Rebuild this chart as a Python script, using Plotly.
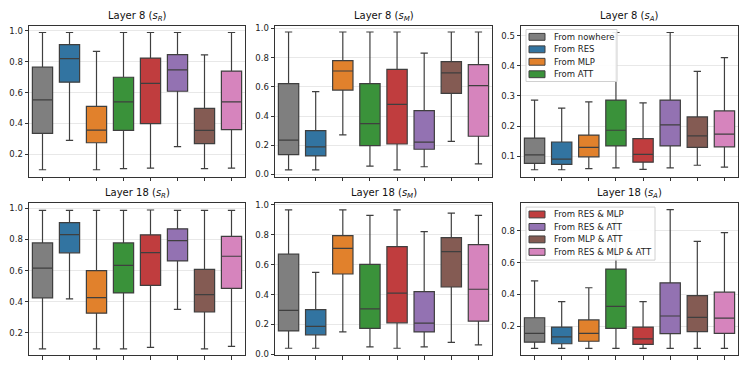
import plotly.graph_objects as go
from plotly.subplots import make_subplots

categories = ["From nowhere", "From RES", "From MLP", "From ATT",
              "From RES & MLP", "From RES & ATT", "From MLP & ATT", "From RES & MLP & ATT"]
colors = ["#7f7f7f", "#3274a1", "#e1812c", "#3a923a",
          "#c03d3e", "#9372b2", "#845b53", "#d684bd"]

# box statistics: lower whisker, q1, median, q3, upper whisker
l8_sr_lo = [0.10, 0.29, 0.10, 0.107, 0.11, 0.25, 0.107, 0.11]
l8_sr_q1 = [0.336, 0.668, 0.275, 0.355, 0.399, 0.609, 0.269, 0.36]
l8_sr_med = [0.553, 0.821, 0.357, 0.54, 0.66, 0.748, 0.355, 0.54]
l8_sr_q3 = [0.765, 0.912, 0.511, 0.70, 0.824, 0.847, 0.498, 0.74]
l8_sr_hi = [0.99, 0.99, 0.868, 0.99, 0.99, 0.99, 0.845, 0.99]

l8_sm_lo = [0.031, 0.031, 0.271, 0.058, 0.031, 0.053, 0.227, 0.073]
l8_sm_q1 = [0.136, 0.127, 0.578, 0.198, 0.209, 0.173, 0.556, 0.262]
l8_sm_med = [0.236, 0.189, 0.709, 0.349, 0.48, 0.222, 0.696, 0.609]
l8_sm_q3 = [0.622, 0.30, 0.78, 0.622, 0.72, 0.438, 0.773, 0.753]
l8_sm_hi = [0.976, 0.567, 0.976, 0.976, 0.976, 0.831, 0.976, 0.976]

l8_sa_lo = [0.055, 0.055, 0.059, 0.061, 0.056, 0.061, 0.07, 0.064]
l8_sa_q1 = [0.076, 0.073, 0.098, 0.134, 0.08, 0.134, 0.129, 0.131]
l8_sa_med = [0.104, 0.09, 0.129, 0.186, 0.106, 0.204, 0.167, 0.173]
l8_sa_q3 = [0.16, 0.147, 0.17, 0.286, 0.158, 0.286, 0.23, 0.25]
l8_sa_hi = [0.286, 0.259, 0.28, 0.51, 0.277, 0.51, 0.381, 0.427]

l18_sr_lo = [0.095, 0.418, 0.095, 0.095, 0.105, 0.35, 0.095, 0.112]
l18_sr_q1 = [0.424, 0.714, 0.325, 0.456, 0.504, 0.662, 0.333, 0.485]
l18_sr_med = [0.616, 0.831, 0.426, 0.633, 0.715, 0.793, 0.445, 0.692]
l18_sr_q3 = [0.778, 0.909, 0.599, 0.778, 0.83, 0.869, 0.608, 0.82]
l18_sr_hi = [0.987, 0.987, 0.987, 0.987, 0.99, 0.987, 0.987, 0.987]

l18_sm_lo = [0.041, 0.041, 0.15, 0.05, 0.041, 0.05, 0.081, 0.063]
l18_sm_q1 = [0.157, 0.131, 0.538, 0.174, 0.211, 0.15, 0.451, 0.222]
l18_sm_med = [0.294, 0.187, 0.71, 0.305, 0.41, 0.209, 0.688, 0.436]
l18_sm_q3 = [0.671, 0.30, 0.795, 0.603, 0.721, 0.42, 0.782, 0.734]
l18_sm_hi = [0.967, 0.549, 0.967, 0.93, 0.967, 0.821, 0.946, 0.93]

l18_sa_lo = [0.06, 0.06, 0.06, 0.06, 0.06, 0.06, 0.06, 0.06]
l18_sa_q1 = [0.099, 0.089, 0.105, 0.186, 0.085, 0.153, 0.165, 0.155]
l18_sa_med = [0.155, 0.132, 0.155, 0.325, 0.12, 0.264, 0.255, 0.251]
l18_sa_q3 = [0.253, 0.194, 0.239, 0.56, 0.194, 0.473, 0.393, 0.414]
l18_sa_hi = [0.486, 0.354, 0.442, 0.90, 0.354, 0.934, 0.734, 0.79]

panels = [
    (1, 1, "Layer 8 (<i>s<sub>R</sub></i>)", (l8_sr_lo, l8_sr_q1, l8_sr_med, l8_sr_q3, l8_sr_hi)),
    (1, 2, "Layer 8 (<i>s<sub>M</sub></i>)", (l8_sm_lo, l8_sm_q1, l8_sm_med, l8_sm_q3, l8_sm_hi)),
    (1, 3, "Layer 8 (<i>s<sub>A</sub></i>)", (l8_sa_lo, l8_sa_q1, l8_sa_med, l8_sa_q3, l8_sa_hi)),
    (2, 1, "Layer 18 (<i>s<sub>R</sub></i>)", (l18_sr_lo, l18_sr_q1, l18_sr_med, l18_sr_q3, l18_sr_hi)),
    (2, 2, "Layer 18 (<i>s<sub>M</sub></i>)", (l18_sm_lo, l18_sm_q1, l18_sm_med, l18_sm_q3, l18_sm_hi)),
    (2, 3, "Layer 18 (<i>s<sub>A</sub></i>)", (l18_sa_lo, l18_sa_q1, l18_sa_med, l18_sa_q3, l18_sa_hi)),
]

y_ranges = {(1, 1): [0.055, 1.035], (1, 2): [-0.015, 1.02], (1, 3): [0.032, 0.533],
            (2, 1): [0.054, 1.034], (2, 2): [-0.006, 1.012], (2, 3): [0.0165, 0.975]}
y_dticks = {(1, 1): 0.2, (1, 2): 0.2, (1, 3): 0.1, (2, 1): 0.2, (2, 2): 0.2, (2, 3): 0.2}

W, H = 747, 374
col_px = [(29, 245), (275, 492), (521, 738)]
row_px = [(23, 177), (204, 359)]
EDGE = "#3f3f3f"

fig = make_subplots(rows=2, cols=3)

for row, col, title, stats in panels:
    lo, q1, med, q3, hi = stats
    for i, cat in enumerate(categories):
        fig.add_trace(go.Box(
            x=[cat], lowerfence=[lo[i]], q1=[q1[i]], median=[med[i]],
            q3=[q3[i]], upperfence=[hi[i]], width=0.75,
            name=cat, fillcolor=colors[i], marker_color=colors[i],
            line=dict(color=EDGE, width=1.2), whiskerwidth=0.36,
            boxpoints=False, showlegend=False, hoverinfo="skip",
        ), row=row, col=col)

    x0, x1 = col_px[col - 1]
    y0, y1 = row_px[row - 1]
    fig.update_xaxes(domain=[x0 / W, x1 / W], row=row, col=col,
                     categoryorder="array", categoryarray=categories,
                     range=[-0.5, 7.5],
                     showticklabels=False, ticks="outside", ticklen=3.5,
                     tickcolor="#333", showgrid=False, showline=True, mirror=True,
                     linecolor="#333", linewidth=1, zeroline=False)
    fig.update_yaxes(domain=[1 - y1 / H, 1 - y0 / H], row=row, col=col,
                     range=y_ranges[(row, col)], dtick=y_dticks[(row, col)], tick0=0,
                     tickformat=".1f", ticks="outside", ticklen=3.5, tickcolor="#333",
                     showgrid=True, gridcolor="#e8e8e8", gridwidth=1,
                     showline=True, mirror=True, linecolor="#333", linewidth=1,
                     zeroline=False, tickfont=dict(size=8.5, color="#222"))
    fig.add_annotation(text=title, x=(x0 + x1) / 2 / W, y=1 - y0 / H,
                       xref="paper", yref="paper", xanchor="center", yanchor="bottom",
                       yshift=1, showarrow=False, font=dict(size=10, color="#111"))


# matplotlib-style legends (compact), one in each right-hand panel
def add_legend(idx, left, top, right, bottom, first_row):
    px = lambda v: v / W
    py = lambda v: 1 - v / H
    fig.add_shape(type="rect", xref="paper", yref="paper",
                  x0=px(left), x1=px(right), y0=py(bottom), y1=py(top),
                  fillcolor="rgba(255,255,255,0.9)", line=dict(color="#d0d0d0", width=1),
                  layer="above")
    for k, i in enumerate(idx):
        cy = first_row + k * 12.7
        fig.add_shape(type="rect", xref="paper", yref="paper",
                      x0=px(left + 3), x1=px(left + 19), y0=py(cy + 3.5), y1=py(cy - 3.5),
                      fillcolor=colors[i], line=dict(color=EDGE, width=1), layer="above")
        fig.add_annotation(text=categories[i], x=px(left + 26), y=py(cy),
                           xref="paper", yref="paper", xanchor="left", yanchor="middle",
                           showarrow=False, font=dict(size=8.5, color="#222"))


add_legend([0, 1, 2, 3], 526, 27, 617, 80, 34.5)
add_legend([4, 5, 6, 7], 526, 208, 655, 262, 215.5)

fig.update_layout(
    width=W, height=H,
    margin=dict(l=0, r=0, t=0, b=0),
    plot_bgcolor="white", paper_bgcolor="white",
    font=dict(family="DejaVu Sans", size=9, color="#222"),
    showlegend=False,
)

fig.write_html("out.html", config={"displayModeBar": False},
               post_script="document.body.style.margin='0';")
